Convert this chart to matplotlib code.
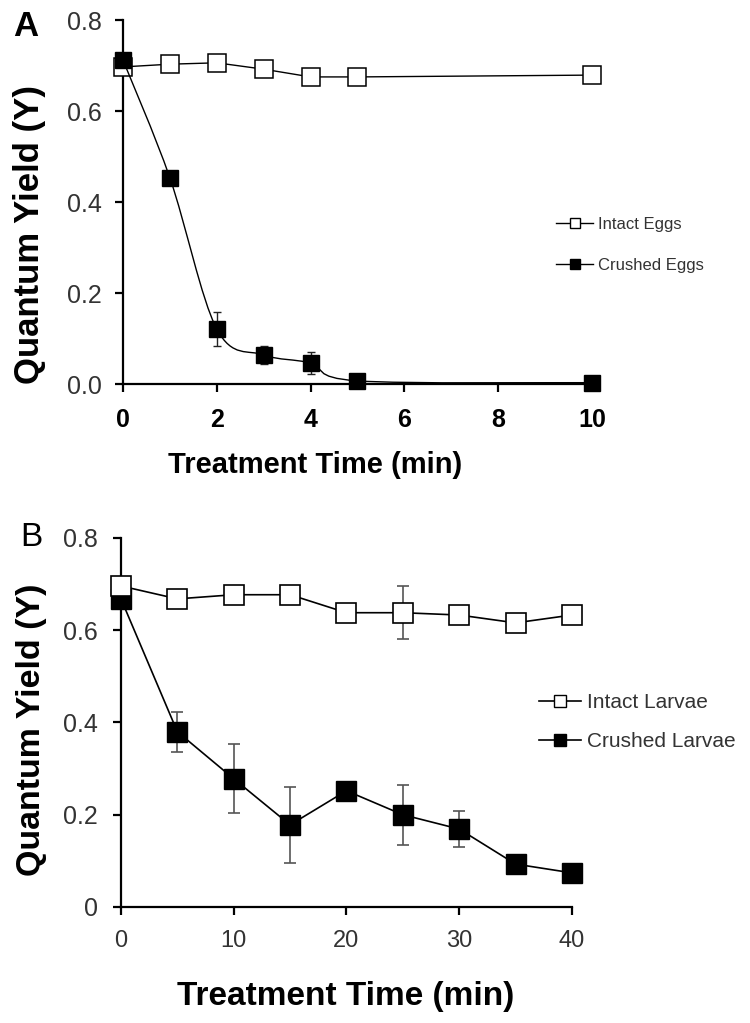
import numpy as np
import matplotlib
matplotlib.use('Agg')
import matplotlib.pyplot as plt
from matplotlib.path import Path
from matplotlib.patches import PathPatch
from matplotlib.lines import Line2D

plt.rcParams['font.family'] = ['Liberation Sans', 'DejaVu Sans']

# Panel A - eggs
egg_time = [0, 1, 2, 3, 4, 5, 10]
intact_eggs = [0.697, 0.703, 0.706, 0.692, 0.675, 0.675, 0.679]
crushed_eggs = [0.712, 0.453, 0.121, 0.064, 0.046, 0.007, 0.003]
crushed_eggs_err = [0.010, 0.016, 0.037, 0.020, 0.025, 0.004, 0.002]

# Panel B - larvae
larvae_time = [0, 5, 10, 15, 20, 25, 30, 35, 40]
intact_larvae = [0.696, 0.668, 0.677, 0.677, 0.638, 0.638, 0.633, 0.616, 0.633]
intact_larvae_err = [0.0, 0.0, 0.0, 0.0, 0.0, 0.058, 0.0, 0.0, 0.0]
crushed_larvae = [0.668, 0.380, 0.278, 0.178, 0.252, 0.200, 0.169, 0.093, 0.074]
crushed_larvae_err = [0.0, 0.043, 0.075, 0.083, 0.0, 0.065, 0.040, 0.0, 0.0]


def smooth_path(xs, ys):
    # Bezier de estilo Excel (Catmull-Rom) entre os pontos
    pts = np.column_stack([xs, ys]).astype(float)
    n = len(pts)
    verts = [pts[0]]
    codes = [Path.MOVETO]
    for i in range(n - 1):
        p0 = pts[i - 1] if i > 0 else pts[i]
        p1 = pts[i]
        p2 = pts[i + 1]
        p3 = pts[i + 2] if i + 2 < n else pts[i + 1]
        c1 = p1 + (p2 - p0) / 6.0
        c2 = p2 - (p3 - p1) / 6.0
        verts += [c1, c2, p2]
        codes += [Path.CURVE4] * 3
    return Path(verts, codes)


def style_axes(ax):
    for s in ['top', 'right']:
        ax.spines[s].set_visible(False)
    for s in ['left', 'bottom']:
        ax.spines[s].set_linewidth(1.6)
    ax.tick_params(direction='out', length=5.5, width=1.6, colors='black')


fig = plt.figure(figsize=(7.5, 10.23), dpi=100)

# ---------------- Painel A ----------------
ax1 = fig.add_axes([0.164, 0.6246, 0.6253, 0.3558])
style_axes(ax1)

ax1.plot(egg_time, intact_eggs, color='black', lw=1.0, marker='s', ms=12.5,
         mfc='white', mec='black', mew=1.1, clip_on=False, zorder=3)
ax1.errorbar(egg_time, crushed_eggs, yerr=crushed_eggs_err, fmt='none',
             ecolor='#222222', elinewidth=1.0, capsize=3, capthick=1.0,
             clip_on=False, zorder=4)
ax1.add_patch(PathPatch(smooth_path(egg_time, crushed_eggs), facecolor='none',
                        edgecolor='black', lw=1.0, zorder=4))
ax1.plot(egg_time, crushed_eggs, linestyle='none', marker='s', ms=11,
         mfc='black', mec='black', clip_on=False, zorder=5)

ax1.set_xlim(0, 10)
ax1.set_ylim(0, 0.8)
ax1.set_xticks([0, 2, 4, 6, 8, 10])
ax1.set_yticks([0, 0.2, 0.4, 0.6, 0.8])
ax1.set_yticklabels(['0.0', '0.2', '0.4', '0.6', '0.8'], fontsize=18, color='#333333')
ax1.set_xticklabels(['0', '2', '4', '6', '8', '10'], fontsize=18, fontweight='bold',
                    family=['Liberation Sans Narrow', 'Liberation Sans'])
ax1.tick_params(axis='y', pad=10)
ax1.tick_params(axis='x', pad=12)

fig.text(315 / 750, 1 - 465 / 1023, 'Treatment Time (min)', fontsize=21,
         fontweight='bold', ha='center', va='center')
fig.text(30 / 750, 1 - 234 / 1023, 'Quantum Yield (Y)', fontsize=25, fontweight='bold',
         rotation=90, ha='center', va='center')
fig.text(26 / 750, 1 - 27 / 1023, 'A', fontsize=25, fontweight='bold', ha='center', va='center')

leg_a = [Line2D([], [], color='black', lw=1.0, marker='s', ms=7, mfc='white', mec='black'),
         Line2D([], [], color='black', lw=1.0, marker='s', ms=7, mfc='black', mec='black')]
fig.legend(leg_a, ['Intact Eggs', 'Crushed Eggs'], loc='center left',
           bbox_to_anchor=(548 / 750, 1 - 245 / 1023), frameon=False, fontsize=12,
           handlelength=2.2, handletextpad=0.3, labelspacing=1.55, borderpad=0,
           labelcolor='#333333')

# ---------------- Painel B ----------------
ax2 = fig.add_axes([0.1613, 0.1134, 0.6013, 0.3607])
style_axes(ax2)

ax2.errorbar(larvae_time, intact_larvae, yerr=intact_larvae_err, fmt='none',
             ecolor='#555555', elinewidth=1.2, capsize=4, capthick=1.2, zorder=2)
ax2.errorbar(larvae_time, crushed_larvae, yerr=crushed_larvae_err, fmt='none',
             ecolor='#555555', elinewidth=1.2, capsize=4, capthick=1.2, zorder=2)
ax2.plot(larvae_time, crushed_larvae, color='black', lw=1.2, marker='s', ms=14,
         mfc='black', mec='black', clip_on=False, zorder=3)
ax2.plot(larvae_time, intact_larvae, color='black', lw=1.2, marker='s', ms=14,
         mfc='white', mec='black', mew=1.2, clip_on=False, zorder=4)

ax2.set_xlim(0, 40)
ax2.set_ylim(0, 0.8)
ax2.set_xticks([0, 10, 20, 30, 40])
ax2.set_yticks([0, 0.2, 0.4, 0.6, 0.8])
ax2.set_yticklabels(['0', '0.2', '0.4', '0.6', '0.8'], fontsize=18, color='#333333')
ax2.set_xticklabels(['0', '10', '20', '30', '40'], fontsize=17, color='#333333')
ax2.tick_params(axis='y', pad=11)
ax2.tick_params(axis='x', pad=11)

fig.text(346 / 750, 1 - 997 / 1023, 'Treatment Time (min)', fontsize=24,
         fontweight='bold', ha='center', va='center')
fig.text(32 / 750, 1 - 730 / 1023, 'Quantum Yield (Y)', fontsize=24.5, fontweight='bold',
         rotation=90, ha='center', va='center')
fig.text(31 / 750, 1 - 538 / 1023, 'B', fontsize=24, ha='center', va='center')

leg_b = [Line2D([], [], color='black', lw=1.2, marker='s', ms=9, mfc='white', mec='black'),
         Line2D([], [], color='black', lw=1.2, marker='s', ms=9, mfc='black', mec='black')]
fig.legend(leg_b, ['Intact Larvae', 'Crushed Larvae'], loc='center left',
           bbox_to_anchor=(529 / 750, 1 - 722 / 1023), frameon=False, fontsize=15,
           handlelength=2.0, handletextpad=0.3, labelspacing=0.95, borderpad=0,
           labelcolor='#333333')

fig.savefig('out.png', dpi=100)
plt.close(fig)
